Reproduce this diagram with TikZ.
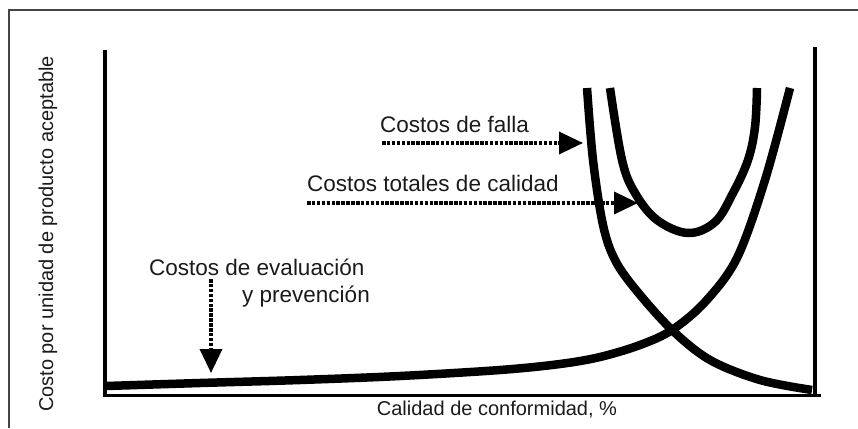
\documentclass[tikz,border=0pt]{standalone}
\usepackage{fontspec}
\setmainfont{Liberation Sans}
\usetikzlibrary{arrows.meta}
\definecolor{txt}{HTML}{1A1A1A}
\definecolor{frm}{HTML}{444444}
\tikzset{
  curve/.style={line width=8.5pt, line cap=butt, line join=round},
  axisline/.style={line width=3.5pt},
  dotarrow/.style={line width=3.6pt, dash pattern=on 3.5pt off 1.4pt,
    -{Triangle[length=24pt,width=22pt]}},
  lbl/.style={text=txt, font=\fontsize{22.5}{29}\selectfont, inner sep=0pt},
  axlbl/.style={text=txt, font=\fontsize{20}{24}\selectfont, inner sep=0pt}
}
\begin{document}
\begin{tikzpicture}[x=1pt,y=-1pt]
\useasboundingbox (0,0) rectangle (858,428);
% frame (top and left only)
\draw[frm, line width=1.2pt] (9,428) -- (9,10) -- (858,10);
% axes
\coordinate (lt) at (105,50);
\coordinate (lb) at (105,397);
\coordinate (rt) at (815,47);
\coordinate (rb) at (815,397);
\coordinate (bl) at (103,395);
\coordinate (br) at (821,395);
\draw[axisline] (lt) -- (lb);
\draw[axisline] (rt) -- (rb);
\draw[line width=3pt] (bl) -- (br);
% curves
\draw[curve] plot[smooth, tension=0.55] coordinates {
  (106,386) (200,383) (300,380) (400,376) (500,370) (560,364) (600,357)
  (640,345) (672,330) (705,302) (737,258) (765,180) (790,88)};
\draw[curve] plot[smooth, tension=0.55] coordinates {
  (587,88) (593,160) (603,225) (615,260) (636,290) (672,330) (710,360)
  (760,380) (812,390)};
\draw[curve] plot[smooth, tension=0.6] coordinates {
  (610,88) (622,160) (635,193) (657,220) (688,233) (715,222) (733,193)
  (748,160) (755,127) (757,88)};
% labels
\node[lbl, anchor=west] (falla) at (380,124) {Costos de falla};
\node[lbl, anchor=west] (total) at (307,183) {Costos totales de calidad};
\node[lbl, anchor=west] (eval1) at (149,267) {Costos de evaluación};
\node[lbl, anchor=east] (eval2) at (370,297) {y prevención};
\node[axlbl, anchor=center] (xlab) at (497,410) {Calidad de conformidad, \%};
\node[axlbl, anchor=center, rotate=90] (ylab) at (48,234) {Costo por unidad de producto aceptable};
% arrows
\coordinate (fs) at (382,143);
\coordinate (fe) at (583,143);
\coordinate (ts) at (307,203);
\coordinate (te) at (638,203);
\coordinate (es) at (211,279);
\coordinate (ee) at (211,373);
\draw[dotarrow] (fs) -- (fe);
\draw[dotarrow] (ts) -- (te);
\draw[dotarrow] (es) -- (ee);
\end{tikzpicture}
\end{document}
